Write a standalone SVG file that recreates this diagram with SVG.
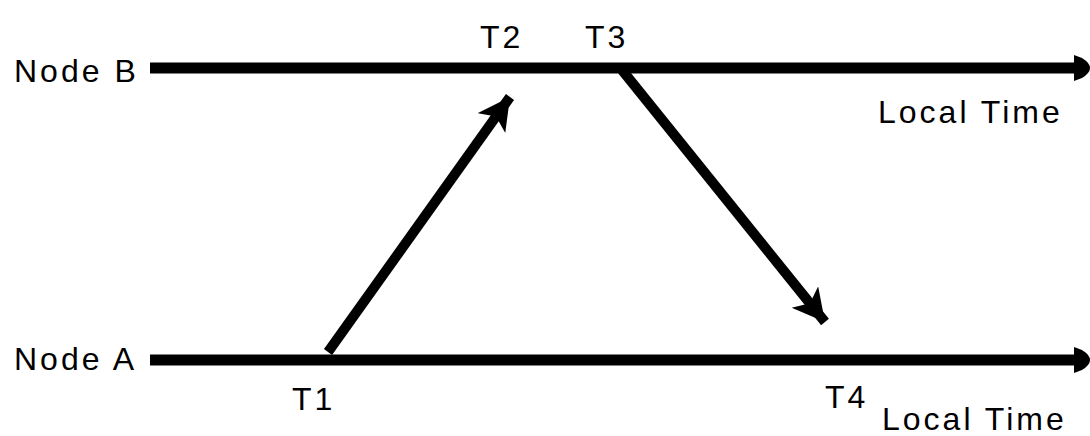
<svg xmlns="http://www.w3.org/2000/svg" width="1090" height="436" viewBox="0 0 1090 436">
<style>
text{font-family:"Liberation Sans",Arial,sans-serif;font-size:32px;fill:#000;letter-spacing:3px}
.axis{stroke:#000;stroke-width:11;fill:none}
.msg{stroke:#000;stroke-width:10;fill:none}
</style>
<defs>
<marker id="ah" markerUnits="userSpaceOnUse" markerWidth="40" markerHeight="40" refX="32" refY="17" orient="auto">
<path d="M0,0 L32,17 L0,34 L8,17 Z" fill="#000"/>
</marker>
</defs>
<rect width="1090" height="436" fill="#fff"/>
<g id="nodeB">
<text x="14" y="82">Node B</text>
<path class="axis" d="M150,68 L1078,68"/>
<path d="M1074,55 L1082,58 Q1090,63 1090,68 Q1090,73 1082,78 L1074,81 Z" fill="#000"/>
<text x="878" y="123" font-size="30">Local Time</text>
</g>
<g id="nodeA">
<text x="14" y="370">Node A</text>
<path class="axis" d="M150,360 L1078,360"/>
<path d="M1074,347 L1082,350 Q1090,355 1090,360 Q1090,365 1082,370 L1074,373 Z" fill="#000"/>
<text x="882" y="430" font-size="30">Local Time</text>
</g>
<g id="labels">
<text x="480" y="48">T2</text>
<text x="585" y="48">T3</text>
<text x="292" y="410">T1</text>
<text x="825" y="408">T4</text>
</g>
<g id="connectors">
<path class="msg" d="M328,352 L510,97" marker-end="url(#ah)"/>
<path class="msg" d="M622,70 L825,322" marker-end="url(#ah)"/>
</g>
</svg>
